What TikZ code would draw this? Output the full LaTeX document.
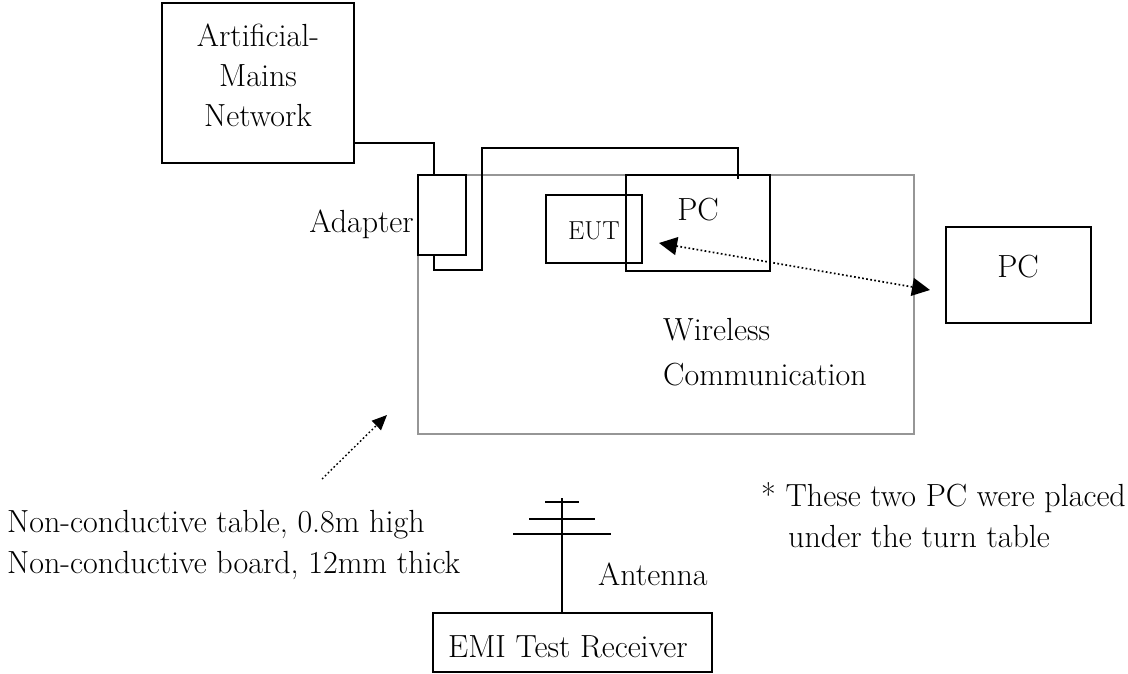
\documentclass[tikz,border=0pt]{standalone}
\usepackage{fontspec}
\usetikzlibrary{arrows.meta}
\definecolor{tablegray}{RGB}{150,150,150}
\begin{document}
\begin{tikzpicture}[x=1pt,y=-1pt,
  box/.style={draw=black, line width=1.8pt, inner sep=0pt, outer sep=0pt},
  txt/.style={inner sep=0pt, font=\fontsize{32}{38}\selectfont},
  small/.style={inner sep=0pt, font=\fontsize{26}{30}\selectfont},
  wire/.style={black, line width=1.8pt},
  radio/.style={line width=1.7pt, dash pattern=on 1.7pt off 2.4pt},
]
\useasboundingbox (0,0) rectangle (1128,674);
% table (gray)
\node[draw=tablegray, line width=1.5pt, inner sep=0pt, outer sep=0pt,
      minimum width=496pt, minimum height=259pt] (table) at (666,304.5) {};
% boxes
\node[box, minimum width=192pt, minimum height=160pt] (amn) at (258,83) {};
\node[box, minimum width=48pt, minimum height=80pt] (adapter) at (442,215) {};
\node[box, minimum width=144pt, minimum height=96pt] (pc1) at (698,223) {};
\node[box, minimum width=96pt, minimum height=68pt] (eut) at (594,229) {};
\node[box, minimum width=145pt, minimum height=96pt] (pc2) at (1018.5,275) {};
\node[box, minimum width=279pt, minimum height=59pt] (emi) at (572.5,642.5) {};
% texts
\node[txt, anchor=base] (t1) at (258,47) {Artificial-};
\node[txt, anchor=base] (t2) at (258,87) {Mains};
\node[txt, anchor=base] (t3) at (258,127) {Network};
\node[txt, anchor=base east] (tad) at (414,233) {Adapter};
\node[small, anchor=base] (teut) at (594,240) {EUT};
\node[txt, anchor=base] (tpc1) at (698,220) {PC};
\node[txt, anchor=base] (tpc2) at (1018,277) {PC};
\node[txt, anchor=base west] (tw1) at (663,340) {Wireless};
\node[txt, anchor=base west] (tw2) at (663,385) {Communication};
\node[txt, anchor=base west] (tn1) at (7,532) {Non-conductive table, 0.8m high};
\node[txt, anchor=base west] (tn2) at (7,573) {Non-conductive board, 12mm thick};
\node[txt, anchor=base west] (ts1) at (761,506) {* These two PC were placed};
\node[txt, anchor=base west] (ts2) at (788,547) {under the turn table};
\node[txt, anchor=base west] (tant) at (598,585) {Antenna};
\node[txt, anchor=base west] (temi) at (448,657) {EMI Test Receiver};
% wiring
\coordinate (c1) at (434,143);
\draw[wire] (amn.east |- c1) -- (c1) -- (adapter.north -| c1);
\coordinate (c2) at (434,270);
\coordinate (c3) at (482,148);
\coordinate (c4) at (738,179);
\draw[wire] (adapter.south -| c2) -- (c2) -- (c2 -| c3) -- (c3) -- (c3 -| c4) -- (c4);
% wireless link
\coordinate (w1) at (659,243);
\coordinate (w2) at (930,290);
\draw[radio, {Triangle[length=18pt,width=18pt]}-{Triangle[length=18pt,width=18pt]}] (w1) -- (w2);
% table pointer
\coordinate (p1) at (322,479);
\coordinate (p2) at (387,415);
\draw[radio, line width=1.4pt, -{Triangle[length=15pt,width=13pt]}] (p1) -- (p2);
% antenna
\coordinate (anttop) at (562,498);
\draw[wire] (anttop) -- (emi.north -| anttop);
\draw[wire] (545,502) -- (579,502);
\draw[wire] (529,519) -- (595,519);
\draw[wire] (513,534) -- (611,534);
\end{tikzpicture}
\end{document}
